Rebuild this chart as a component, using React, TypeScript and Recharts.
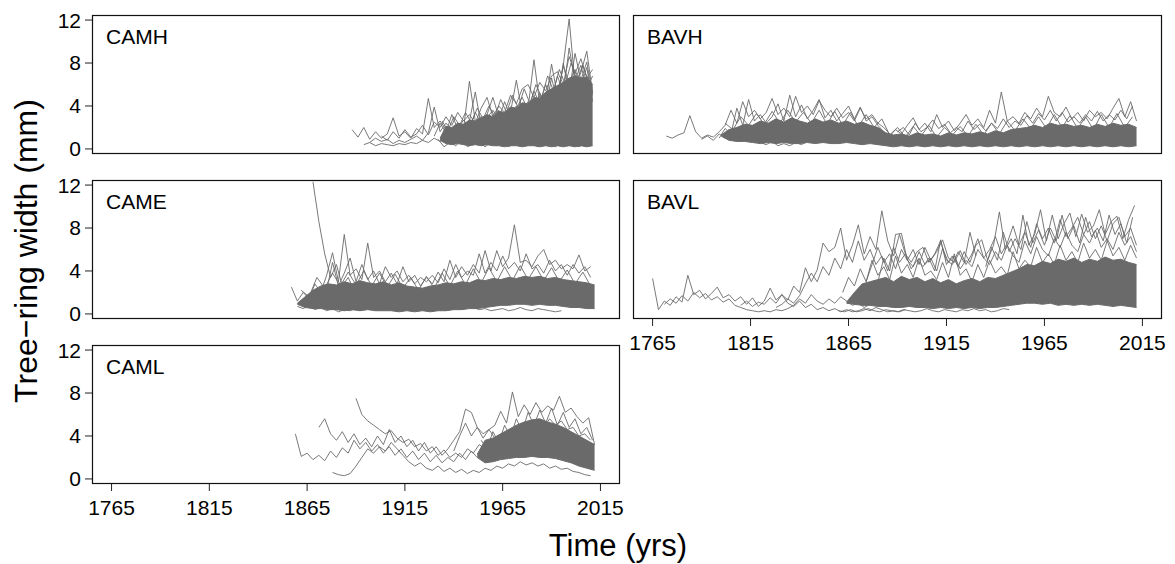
import { Area, ComposedChart, Line, XAxis, YAxis } from "recharts";

// tick positions shared by all panels
const yearTicks = [1765, 1815, 1865, 1915, 1965, 2015];
const widthTicks = [0, 4, 8, 12];

// ---------- CAMH ----------
const camhBandLow = [0.8, 0.5, 0.4, 0.5, 0.4, 0.3, 0.4, 0.3, 0.4, 0.3, 0.3, 0.2, 0.3, 0.3, 0.2, 0.3, 0.3, 0.2, 0.3, 0.2, 0.3, 0.2, 0.3, 0.2, 0.3, 0.2, 0.3];
const camhBandHigh = [1.0, 2.1, 2.0, 2.4, 2.3, 2.7, 2.6, 2.9, 3.2, 3.0, 3.5, 3.4, 3.9, 3.8, 4.3, 4.2, 4.8, 4.7, 5.3, 5.6, 5.9, 6.2, 6.6, 6.8, 6.6, 6.7, 6.0];
const camhA = [1.8, 1.1, 2.0, 0.9, 1.6, 1.0, 1.4, 2.9, 1.2, 1.6, 1.0, 1.9, 1.4, 4.7, 2.0, 2.6, 1.8, 1.5, 2.4, 1.9, 6.3, 2.6, 3.0, 2.2, 2.8, 3.6, 2.5, 3.2, 4.0, 3.1, 3.8, 8.3, 4.2, 4.0, 5.6, 4.8, 7.8, 12.1, 6.0, 7.1, 9.1, 5.2];
const camhB = [0.6, 1.0, 0.7, 0.9, 0.5, 0.8, 0.6, 0.9, 1.2, 0.8, 1.5, 3.9, 1.6, 2.4, 1.8, 2.2, 2.0, 2.6, 5.3, 2.2, 3.2, 4.8, 3.0, 2.6, 3.4, 6.4, 3.4, 4.4, 3.6, 5.2, 4.2, 7.9, 5.0, 7.7, 6.2, 7.4, 5.8, 7.6, 4.4];
const camhC = [0.4, 0.6, 0.3, 0.5, 0.4, 0.3, 0.5, 0.4, 0.6, 0.5, 0.8, 0.6, 1.0, 0.7, 1.2, 0.9, 1.4, 1.1, 1.8, 1.3, 2.2, 1.6, 2.6, 2.0, 3.1, 2.4, 3.6, 2.8, 4.2, 3.2, 5.0, 3.8, 6.6, 4.4, 8.0, 5.2, 8.9, 6.4, 8.1, 5.0];
const camhD = [1.2, 0.8, 1.6, 1.0, 1.8, 1.1, 1.4, 2.2, 1.3, 2.5, 2.0, 3.0, 2.2, 3.4, 2.6, 3.2, 2.4, 3.8, 4.8, 3.0, 4.0, 3.4, 5.0, 4.2, 5.6, 6.0, 4.8, 6.2, 5.4, 6.8, 7.2, 6.0, 8.6, 7.0, 8.4, 6.6, 7.4];
const camhE = [1.2, 2.4, 1.5, 3.2, 1.9, 2.7, 2.0, 3.4, 2.4, 2.9, 3.6, 2.8, 4.4, 3.0, 3.8, 4.8, 3.6, 5.4, 4.2, 6.0, 4.6, 6.8, 5.2, 9.4, 6.4, 7.8, 5.6, 6.8];
const camhF = [2.6, 1.7, 3.0, 2.2, 3.4, 2.4, 3.8, 2.8, 4.0, 3.0, 4.6, 3.4, 5.0, 3.8, 5.6, 4.2, 6.0, 4.8, 6.8, 5.4, 7.4, 6.0, 8.0, 6.4, 7.8, 6.2];
const camhG = [0.9, 0.2, 0.6, 0.3, 0.8, 0.2, 0.5, 0.7, 0.2, 0.6, 0.3, 0.9, 0.2, 0.5, 0.8, 0.3, 0.6, 0.2, 0.7, 0.4, 0.2, 0.6, 0.3, 0.8, 0.2, 0.5, 0.3];

// ---------- BAVH ----------
const bavhBandLow = [1.2, 0.8, 0.7, 0.7, 0.6, 0.5, 0.6, 0.5, 0.6, 0.5, 0.5, 0.6, 0.5, 0.6, 0.5, 0.5, 0.6, 0.5, 0.4, 0.5, 0.4, 0.3, 0.2, 0.3, 0.2, 0.3, 0.2, 0.3, 0.2, 0.3, 0.2, 0.3, 0.2, 0.3, 0.2, 0.3, 0.2, 0.3, 0.2, 0.3, 0.2, 0.3, 0.2, 0.3, 0.2, 0.3, 0.2, 0.3, 0.2, 0.3, 0.2, 0.3, 0.2, 0.3];
const bavhBandHigh = [1.3, 1.8, 2.0, 2.3, 2.2, 2.6, 2.4, 2.8, 2.5, 2.9, 2.6, 2.4, 2.8, 2.5, 2.7, 2.4, 2.6, 2.3, 2.5, 2.2, 2.0, 1.5, 1.3, 1.4, 1.2, 1.5, 1.3, 1.4, 1.2, 1.5, 1.3, 1.5, 1.4, 1.6, 1.4, 1.7, 1.5, 1.8, 1.9, 2.0, 2.2, 2.0, 2.4, 2.2, 2.3, 2.1, 2.2, 2.0, 2.3, 2.1, 2.4, 2.2, 2.3, 2.0];
const bavhA = [1.2, 1.0, 1.3, 1.5, 3.1, 1.6, 1.0, 1.3, 1.1, 1.6, 2.2, 3.6, 2.4, 4.4, 3.0, 3.6, 2.8, 3.4, 4.7, 3.2, 3.8, 3.0, 4.9, 3.4, 4.0, 3.2, 4.5, 3.6, 3.0, 3.8, 2.9, 3.4, 2.6, 3.8, 2.8, 3.2, 2.4, 2.0, 1.4, 1.1];
const bavhB = [0.9, 1.2, 0.8, 1.4, 1.0, 1.7, 1.2, 0.9, 1.5, 1.0, 0.6, 0.4, 0.7, 0.3, 0.5, 0.3, 0.6, 0.4, 0.7, 0.9];
const bavhC = [1.0, 1.9, 1.4, 3.8, 2.2, 4.6, 2.6, 3.2, 2.4, 3.0, 4.2, 2.6, 5.0, 3.0, 4.1, 2.8, 3.6, 4.6, 2.9, 3.6, 2.6, 3.3, 4.0, 2.8, 3.9, 2.6, 3.0, 2.2, 1.6];
const bavhD = [1.2, 1.8, 1.4, 2.2, 2.9, 1.8, 2.4, 1.6, 3.2, 2.0, 2.6, 1.7, 2.4, 3.2, 2.2, 2.8, 2.0, 3.6, 2.4, 5.3, 2.6, 3.0, 2.4, 3.4, 2.8, 3.8, 3.0, 4.9, 3.4, 3.0, 3.9, 2.8, 3.4, 2.6, 3.6, 3.0, 3.4, 2.8, 3.8, 4.7, 3.0, 4.4, 2.6];
const bavhE = [1.6, 2.0, 1.3, 2.4, 1.6, 2.0, 2.7, 1.9, 2.3, 1.5, 2.0, 1.6, 2.6, 1.8, 2.3, 1.7, 2.4, 1.9, 2.8, 2.0, 2.6, 2.2, 3.1, 2.4, 3.3, 2.7, 3.6, 2.6, 3.4, 2.5, 3.0, 2.4, 3.2, 2.6, 3.5, 2.6, 3.2, 2.7, 3.6, 2.8, 4.0];
const bavhF = [2.4, 1.8, 3.0, 2.2, 3.3, 2.3, 3.5, 2.4, 3.6, 2.5, 3.4, 2.4, 3.6, 2.3, 3.5, 2.2, 3.4, 2.1, 3.2, 2.0, 2.8, 1.3, 2.0, 1.1, 2.1, 1.2, 2.2, 1.1, 2.0, 1.3, 2.1, 1.2, 2.3, 1.3, 2.4, 1.4, 2.6, 1.7, 2.8, 1.9, 3.0, 1.9, 3.2, 2.0, 3.1, 1.9, 3.0, 1.8, 3.2, 2.0, 3.3, 2.0, 3.0];

// ---------- CAME ----------
const cameBandLow = [0.9, 0.6, 0.5, 0.5, 0.4, 0.4, 0.3, 0.4, 0.3, 0.4, 0.3, 0.3, 0.3, 0.2, 0.3, 0.2, 0.3, 0.2, 0.3, 0.3, 0.4, 0.4, 0.5, 0.5, 0.6, 0.7, 0.8, 0.8, 0.9, 0.9, 0.8, 0.9, 0.8, 0.8, 0.7, 0.6, 0.6, 0.5, 0.5];
const cameBandHigh = [1.0, 1.6, 2.2, 2.6, 2.8, 2.7, 3.0, 2.8, 3.1, 2.9, 2.8, 3.0, 2.7, 2.9, 2.6, 2.5, 2.4, 2.6, 2.7, 2.9, 2.8, 3.0, 2.9, 3.2, 3.1, 3.3, 3.2, 3.4, 3.3, 3.5, 3.4, 3.5, 3.3, 3.4, 3.2, 3.1, 3.0, 2.9, 2.7];
const cameA = [12.3, 8.6, 5.6, 3.4, 4.6, 2.6, 3.4, 2.2, 2.8, 1.9, 2.4, 1.6];
const cameB = [2.5, 1.2, 2.0, 1.4, 2.8, 2.0, 3.6, 5.7, 3.0, 7.4, 3.6, 4.2, 3.2, 6.6, 3.4, 4.0, 3.0, 3.8, 2.8, 4.4, 3.0, 3.6, 2.6, 3.4, 2.8, 3.9, 3.0, 5.0, 3.4, 4.4, 3.6, 4.6, 3.8, 5.9, 4.0, 5.9, 4.4, 5.2, 8.3, 4.8, 5.0, 4.4, 5.4, 6.0, 4.6, 5.0, 4.2, 4.6, 4.2, 5.5, 4.0, 4.4];
const cameC = [0.7, 0.5, 0.8, 0.4, 0.6, 0.3, 0.5, 0.2, 0.4, 0.3, 0.5];
const cameD = [0.6, 0.4, 0.5, 0.3, 0.4, 0.5, 0.3, 0.4, 0.6, 0.4, 0.3, 0.5, 0.4, 0.3, 0.2, 0.3];
const cameE = [2.2, 4.8, 2.6, 3.8, 5.2, 3.0, 4.6, 3.2, 4.0, 2.8, 4.4, 3.4, 4.0, 3.0, 3.6, 2.8, 3.4, 3.0, 3.6, 2.9, 4.2, 3.2, 4.6, 3.4, 4.0, 3.6, 5.6, 3.8, 4.8, 4.0, 5.4, 4.2, 4.8, 4.0, 5.6, 4.2, 4.6, 3.8, 5.0, 4.0, 4.6, 3.6, 4.6, 3.8, 4.4, 3.4];
const cameF = [2.2, 1.6, 3.4, 2.4, 3.8, 2.6, 3.9, 2.7, 4.0, 2.6, 3.8, 2.5, 3.7, 2.4, 3.4, 2.2, 3.5, 2.4, 3.8, 2.6, 4.0, 2.7, 4.2, 2.9, 4.3, 3.0, 4.4, 3.1, 4.5, 3.2, 4.4, 3.1, 4.3, 3.0, 4.1, 2.8, 3.9, 2.6];

// ---------- BAVL ----------
const bavlBandLow = [1.0, 0.9, 0.8, 0.8, 0.7, 0.7, 0.6, 0.6, 0.7, 0.6, 0.6, 0.5, 0.6, 0.5, 0.6, 0.5, 0.6, 0.5, 0.6, 0.6, 0.7, 0.8, 0.9, 1.0, 1.0, 0.9, 1.0, 0.8, 0.9, 0.8, 0.9, 0.8, 0.9, 0.8, 0.7, 0.8, 0.7, 0.6];
const bavlBandHigh = [1.1, 2.0, 2.8, 3.0, 3.2, 3.4, 3.0, 3.5, 3.2, 3.4, 3.0, 3.3, 2.9, 3.2, 2.8, 3.1, 3.3, 3.0, 3.4, 3.3, 3.6, 3.9, 4.2, 4.6, 4.5, 4.9, 4.7, 5.1, 4.9, 5.2, 4.8, 5.1, 4.9, 5.3, 5.0, 5.1, 4.8, 4.6];
const bavlA = [3.3, 0.4, 1.2, 0.8, 1.6, 1.1, 3.6, 1.8, 2.2, 1.4, 1.9, 2.5, 1.5, 1.8, 1.2, 1.6, 0.9, 1.5, 0.7, 1.2, 2.4, 1.3, 1.8, 1.0, 0.7, 1.2, 0.6, 0.9, 0.4, 0.6, 0.3, 0.5, 0.2, 0.4, 0.2, 0.3, 0.5, 0.3, 0.6, 0.4, 0.2, 0.3, 0.2, 0.4];
const bavlB = [0.9, 1.4, 1.0, 1.7, 1.2, 2.0, 1.5, 1.9, 1.3, 1.6, 1.1, 1.4, 0.8, 0.6, 0.4, 0.3, 0.2, 0.3, 0.2, 0.4, 0.3, 0.5, 0.8, 1.4, 1.0, 1.8, 1.2, 0.9, 1.4, 1.0, 1.6, 1.2, 0.8, 1.0, 0.6, 0.9, 1.4, 2.0];
const bavlC = [0.8, 1.2, 0.7, 1.1, 0.9, 1.5, 1.0, 1.8, 1.3, 2.6, 2.0, 4.3, 3.0, 4.1, 6.6, 5.8, 6.2, 8.0, 5.0, 6.4, 8.3, 5.6, 7.2, 6.0, 9.6, 6.8, 5.4, 7.4, 5.6, 4.8, 5.8, 6.2, 4.8, 5.6, 6.8, 5.0, 4.6, 5.8, 4.8, 7.6, 5.4];
const bavlD = [0.6, 0.9, 1.4, 1.0, 1.7, 2.8, 3.8, 3.0, 4.4, 3.6, 5.2, 4.2, 6.0, 4.8, 6.8, 5.0, 6.0, 4.6, 5.4, 4.0, 6.2, 4.8, 5.6, 4.2, 5.0, 4.4, 5.2, 4.0, 6.9, 4.6, 5.4, 4.4, 5.8, 4.8, 6.4, 6.9, 5.0, 6.4, 9.5, 6.0, 7.0, 5.6, 9.2, 6.4, 7.4, 9.7, 6.8, 9.2, 7.0, 8.4, 9.4, 7.2, 9.3, 7.6, 8.2, 9.7, 7.4, 8.6, 9.1, 7.0, 8.8, 10.1];
const bavlE = [3.0, 5.2, 4.0, 7.4, 7.5, 5.0, 6.0, 4.6, 6.2, 5.0, 5.8, 6.9, 5.2, 4.8, 5.9, 4.6, 5.6, 7.0, 5.2, 6.0, 7.2, 5.6, 6.6, 8.2, 6.4, 7.6, 6.2, 8.4, 7.0, 8.0, 6.6, 8.8, 7.2, 8.0, 9.0, 7.4, 8.6, 7.0, 8.2, 6.8, 8.4, 9.0, 7.2, 8.0, 6.4];
const bavlF = [0.3, 0.2, 0.4, 0.2, 0.3, 0.5, 0.3, 0.2, 0.4, 0.3, 0.2, 0.4, 0.3, 0.2, 0.3, 0.5, 0.3, 0.2, 0.4, 0.3, 0.2, 0.4, 0.3, 0.5, 0.3, 0.4, 0.2, 0.3, 0.5, 0.4];
const bavlG = [4.4, 6.2, 5.0, 7.6, 5.8, 7.0, 6.0, 8.6, 6.6, 7.8, 6.4, 8.0, 6.8, 9.2, 7.0, 8.2, 6.6, 9.0, 7.2, 8.0, 6.8, 9.2, 7.4, 8.4, 6.6, 9.0];
const bavlH = [2.0, 3.4, 2.6, 4.2, 3.0, 5.0, 3.6, 4.4, 3.2, 5.4, 3.8, 4.6, 3.4, 5.2, 3.6, 4.0, 3.2, 4.8, 3.4, 5.6, 3.6, 4.2, 3.0, 4.6, 3.4, 5.0, 3.8, 4.4, 3.6, 5.8, 4.2, 5.0, 4.4, 6.2, 4.8, 5.6, 4.6, 6.4, 5.0, 5.8, 4.8, 6.6, 5.2, 6.0, 5.0, 6.8, 5.4, 6.2, 5.0, 6.4, 5.2];
const bavlI = [3.0, 4.6, 6.2, 4.8, 5.6, 4.2, 6.0, 5.0, 4.4, 5.8, 4.6, 5.2, 4.0, 6.1, 4.8, 5.4, 4.2, 5.0, 4.4, 6.0, 5.2, 4.6, 5.8, 5.0, 6.4, 5.4, 4.8, 6.8, 5.6, 7.2, 6.0, 5.4, 7.0, 6.2, 7.6, 6.4, 5.8, 7.4, 6.6, 7.8, 6.2, 7.0, 6.0, 7.6, 6.4, 7.2, 5.8];

// ---------- CAML ----------
const camlBandLow = [2.0, 1.5, 1.6, 1.8, 1.9, 2.0, 2.0, 2.1, 2.0, 2.0, 1.9, 1.7, 1.5, 1.2, 1.0, 0.8];
const camlBandHigh = [2.3, 3.6, 3.8, 4.2, 4.6, 5.0, 5.3, 5.5, 5.6, 5.3, 5.1, 4.8, 4.4, 4.0, 3.6, 3.2];
const camlA = [4.2, 2.1, 2.4, 1.8, 2.2, 1.7, 2.6, 2.0, 2.9, 2.4, 3.6, 2.8, 3.4, 2.6, 3.2, 2.4, 3.0, 2.2, 2.8, 2.0, 2.6, 1.8, 2.4, 1.6, 2.2, 1.5, 2.0, 1.6, 2.4, 1.8, 2.6, 2.0];
const camlB = [4.8, 5.6, 4.2, 3.6, 4.4, 3.4, 4.2, 3.2, 3.8, 3.0, 4.0, 3.2, 4.6, 3.4, 4.0, 3.0, 3.6, 2.6, 3.4, 2.4, 3.0, 2.2, 2.8, 3.6, 4.4, 6.5, 6.2, 4.8, 4.2, 4.6, 3.8];
const camlC = [0.6, 0.4, 0.3, 0.5, 1.2, 2.0, 2.8, 2.4, 3.0, 2.6, 3.4, 2.8, 2.2, 1.6, 1.2, 1.5, 1.0, 0.8, 1.2, 0.7, 1.0, 0.6, 0.9, 0.5, 0.8, 0.6, 1.0, 0.8, 1.2, 1.0, 1.4, 1.2, 1.6, 1.3, 1.5, 1.2, 1.4, 1.0, 1.2, 0.9, 1.0, 0.7, 0.6, 0.4, 0.3];
const camlD = [7.5, 6.0, 5.4, 5.0, 4.6, 4.2, 4.5, 3.8, 3.4, 3.7, 3.0, 3.3, 2.6, 3.0, 2.2, 2.7, 2.0, 2.4, 2.0, 2.8, 2.4, 3.2, 2.8, 3.6, 3.0, 4.0, 3.4, 4.6, 4.0, 5.0, 4.4, 5.4, 4.8, 5.6, 5.0, 5.4, 4.6, 4.8, 4.0, 4.2, 3.6];
const camlE = [2.6, 4.0, 5.2, 4.0, 4.8, 3.8, 4.6, 5.0, 6.3, 5.2, 8.1, 5.8, 6.9, 6.0, 7.1, 6.2, 6.8, 6.4, 7.7, 6.2, 6.6, 5.8, 5.2, 5.7, 3.2];
const camlF = [3.6, 2.8, 4.4, 3.4, 5.0, 3.9, 5.6, 4.4, 6.2, 5.0, 6.4, 5.2, 6.6, 5.0, 6.2, 4.8, 5.6, 4.2, 4.8, 3.6];

type Run = { from: number; step: number; values: number[] };
type Band = { from: number; step: number; low: number[]; high: number[] };
type PanelDef = { name: string; col: number; row: number; xAxis: boolean; band: Band; lines: Run[] };

const panels: PanelDef[] = [
  {
    name: "CAMH", col: 0, row: 0, xAxis: false,
    band: { from: 1933, step: 3, low: camhBandLow, high: camhBandHigh },
    lines: [
      { from: 1888, step: 3, values: camhA },
      { from: 1897, step: 3, values: camhB },
      { from: 1894, step: 3, values: camhC },
      { from: 1903, step: 3, values: camhD },
      { from: 1930, step: 3, values: camhE },
      { from: 1934, step: 3, values: camhF },
      { from: 1932, step: 3, values: camhG },
    ],
  },
  {
    name: "BAVH", col: 1, row: 0, xAxis: false,
    band: { from: 1800, step: 4, low: bavhBandLow, high: bavhBandHigh },
    lines: [
      { from: 1772, step: 3, values: bavhA },
      { from: 1790, step: 3, values: bavhB },
      { from: 1799, step: 3, values: bavhC },
      { from: 1886, step: 3, values: bavhD },
      { from: 1890, step: 3, values: bavhE },
      { from: 1802, step: 4, values: bavhF },
    ],
  },
  {
    name: "CAME", col: 0, row: 1, xAxis: false,
    band: { from: 1860, step: 4, low: cameBandLow, high: cameBandHigh },
    lines: [
      { from: 1868, step: 3, values: cameA },
      { from: 1857, step: 3, values: cameB },
      { from: 1860, step: 3, values: cameC },
      { from: 1950, step: 3, values: cameD },
      { from: 1875, step: 3, values: cameE },
      { from: 1862, step: 4, values: cameF },
    ],
  },
  {
    name: "BAVL", col: 1, row: 1, xAxis: true,
    band: { from: 1864, step: 4, low: bavlBandLow, high: bavlBandHigh },
    lines: [
      { from: 1765, step: 3, values: bavlA },
      { from: 1771, step: 3, values: bavlB },
      { from: 1810, step: 3, values: bavlC },
      { from: 1828, step: 3, values: bavlD },
      { from: 1880, step: 3, values: bavlE },
      { from: 1860, step: 3, values: bavlF },
      { from: 1935, step: 3, values: bavlG },
      { from: 1862, step: 3, values: bavlH },
      { from: 1874, step: 3, values: bavlI },
    ],
  },
  {
    name: "CAML", col: 0, row: 2, xAxis: true,
    band: { from: 1952, step: 4, low: camlBandLow, high: camlBandHigh },
    lines: [
      { from: 1859, step: 3, values: camlA },
      { from: 1871, step: 3, values: camlB },
      { from: 1878, step: 3, values: camlC },
      { from: 1890, step: 3, values: camlD },
      { from: 1940, step: 3, values: camlE },
      { from: 1954, step: 3, values: camlF },
    ],
  },
];

const FONT = "'Liberation Sans', Arial, Helvetica, sans-serif";
const GREY = "#6a6a6a";
const ROW_TOP = [15, 180, 345];
const BOX_H = 139;
const PAD = 12; // room above/below the plot box so tick labels are not clipped
const COL = [
  { boxLeft: 92, boxW: 528, axisW: 52 },
  { boxLeft: 633, boxW: 529, axisW: 7 },
];

function buildRows(p: PanelDef) {
  const rows = new Map<number, Record<string, any>>();
  const get = (year: number) => {
    let r = rows.get(year);
    if (!r) {
      r = { year };
      rows.set(year, r);
    }
    return r;
  };
  p.band.low.forEach((lo, i) => {
    get(p.band.from + i * p.band.step).band = [lo, p.band.high[i]];
  });
  p.lines.forEach((run, k) => {
    run.values.forEach((v, i) => {
      get(run.from + i * run.step)[`s${k}`] = v;
    });
  });
  return [...rows.values()].sort((a, b) => a.year - b.year);
}

function Panel({ p }: { p: PanelDef }) {
  const c = COL[p.col];
  const xh = p.xAxis ? 42 : 0;
  const mb = p.xAxis ? 0 : PAD;
  const rows = buildRows(p);
  const tickStyle = { fontSize: 21, fill: "#000", fontFamily: FONT };
  return (
    <div style={{ position: "absolute", left: c.boxLeft - c.axisW, top: ROW_TOP[p.row] - PAD }}>
      <ComposedChart
        width={c.axisW + c.boxW + 12}
        height={PAD + BOX_H + xh + mb}
        data={rows}
        margin={{ top: PAD, right: 12, bottom: mb, left: 0 }}
      >
        <XAxis
          type="number"
          dataKey="year"
          domain={[1755, 2025]}
          ticks={yearTicks}
          interval={0}
          allowDataOverflow
          hide={!p.xAxis}
          height={xh}
          axisLine={false}
          tickSize={7}
          tickMargin={9}
          tickLine={{ stroke: "#222" }}
          tick={tickStyle}
        />
        <YAxis
          type="number"
          domain={[-0.47, 12.47]}
          ticks={widthTicks}
          interval={0}
          allowDataOverflow
          width={c.axisW}
          axisLine={false}
          tickSize={7}
          tickMargin={4}
          tickLine={{ stroke: "#222" }}
          tick={p.col === 0 ? tickStyle : false}
        />
        <Area
          dataKey="band"
          stroke={GREY}
          strokeWidth={1}
          fill={GREY}
          fillOpacity={1}
          connectNulls
          dot={false}
          activeDot={false}
          isAnimationActive={false}
        />
        {p.lines.map((_, k) => (
          <Line
            key={k}
            dataKey={`s${k}`}
            stroke={GREY}
            strokeWidth={0.9}
            dot={false}
            activeDot={false}
            connectNulls
            isAnimationActive={false}
          />
        ))}
      </ComposedChart>
    </div>
  );
}

export default function App() {
  return (
    <div
      style={{
        position: "absolute",
        left: 0,
        top: 0,
        width: 1175,
        height: 564,
        overflow: "hidden",
        background: "#fff",
        fontFamily: FONT,
      }}
    >
      {panels.map((p) => (
        <Panel key={p.name} p={p} />
      ))}
      <svg
        width={1175}
        height={564}
        style={{ position: "absolute", left: 0, top: 0, pointerEvents: "none" }}
      >
        {panels.map((p) => {
          const c = COL[p.col];
          const top = ROW_TOP[p.row];
          return (
            <g key={p.name}>
              <rect
                x={c.boxLeft + 0.5}
                y={top + 0.5}
                width={c.boxW - 1}
                height={BOX_H - 1}
                fill="none"
                stroke="#111"
                strokeWidth={1.2}
              />
              <text x={c.boxLeft + 14} y={top + 28.5} fontSize={21} fontFamily={FONT} fill="#000">
                {p.name}
              </text>
            </g>
          );
        })}
        <text
          transform="rotate(-90)"
          x={-251}
          y={37}
          textAnchor="middle"
          fontSize={32}
          fontFamily={FONT}
          fill="#000"
        >
          Tree−ring width (mm)
        </text>
        <text x={618} y={556} textAnchor="middle" fontSize={31} fontFamily={FONT} fill="#000">
          Time (yrs)
        </text>
      </svg>
    </div>
  );
}
